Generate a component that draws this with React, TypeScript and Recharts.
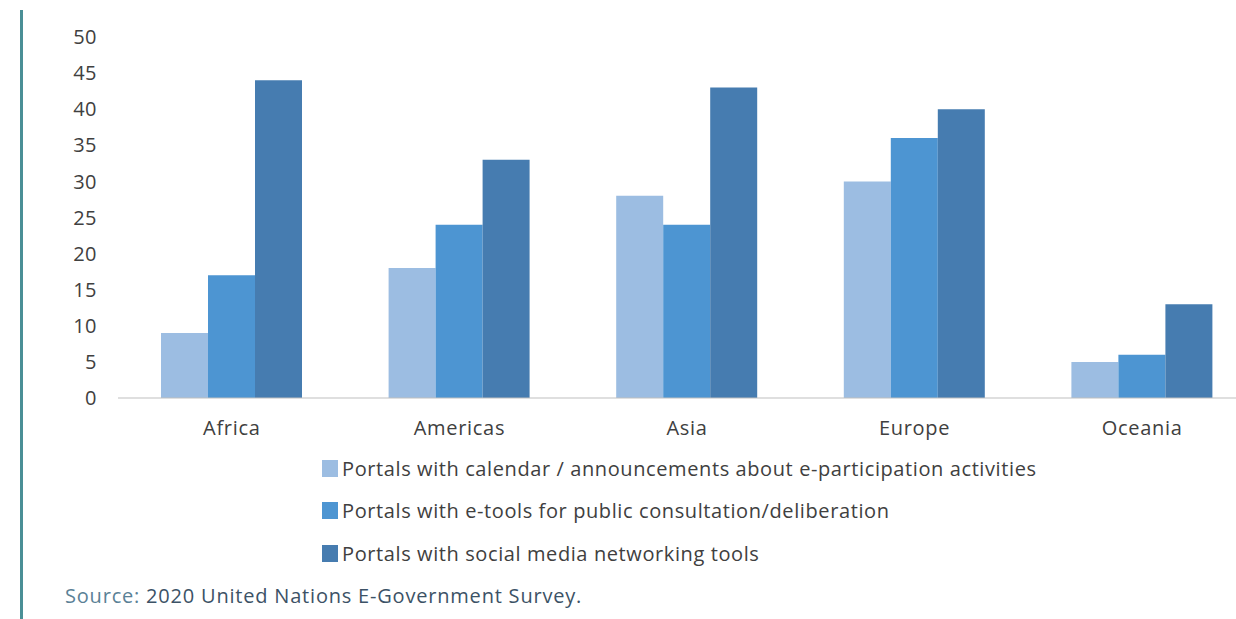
import React from 'react';
import { BarChart, Bar, XAxis, YAxis, Legend } from 'recharts';

const regions = ['Africa', 'Americas', 'Asia', 'Europe', 'Oceania'];
const calendar = [9, 18, 28, 30, 5];
const eTools = [17, 24, 24, 36, 6];
const socialMedia = [44, 33, 43, 40, 13];
const yTicks = [0, 5, 10, 15, 20, 25, 30, 35, 40, 45, 50];

const seriesNames = [
    'Portals with calendar / announcements about e-participation activities',
    'Portals with e-tools for public consultation/deliberation',
    'Portals with social media networking tools',
];
const colors = ['#9cbde2', '#4d95d2', '#467cb0'];

const data = regions.map((region, i) => ({
    region,
    calendar: calendar[i],
    eTools: eTools[i],
    socialMedia: socialMedia[i],
}));

const FONT = '"Open Sans", sans-serif';

const LegendRows = () => (
    <div style={{ fontFamily: FONT, fontSize: 20, letterSpacing: 0.6, color: '#404040', textAlign: 'left' }}>
        {seriesNames.map((name, i) => (
            <div key={name} style={{ display: 'flex', alignItems: 'center', height: 42.5 }}>
                <span style={{ display: 'inline-block', width: 16, height: 17, background: colors[i], marginRight: 4 }} />
                <span>{name}</span>
            </div>
        ))}
    </div>
);

export default function App() {
    return (
        <div style={{ position: 'fixed', left: 0, top: 0, width: 1236, height: 619, overflow: 'hidden', background: '#fff' }}>
            <div style={{ position: 'absolute', left: 20, top: 10, width: 2.5, height: 609, background: '#4a8f96' }} />
            <BarChart
                width={1280}
                height={619}
                data={data}
                margin={{ top: 37, right: 24, bottom: 181, left: 0 }}
                barGap={0}
                barCategoryGap={43}
            >
                <XAxis
                    dataKey="region"
                    height={40}
                    tickSize={0}
                    tickMargin={23}
                    stroke="#bfbfbf"
                    tick={{ fill: '#404040', fontSize: 20, fontFamily: FONT, letterSpacing: 0.7 }}
                />
                <YAxis
                    width={118}
                    domain={[0, 50]}
                    ticks={yTicks}
                    axisLine={false}
                    tickLine={false}
                    tickSize={0}
                    tickMargin={21}
                    interval={0}
                    tick={{ fill: '#404040', fontSize: 20, fontFamily: FONT, letterSpacing: 0.5 }}
                />
                <Legend
                    layout="horizontal"
                    verticalAlign="middle"
                    align="center"
                    wrapperStyle={{ position: 'absolute', left: 322, top: 447, width: 900 }}
                    content={() => <LegendRows />}
                />
                <Bar dataKey="calendar" name={seriesNames[0]} fill={colors[0]} isAnimationActive={false} />
                <Bar dataKey="eTools" name={seriesNames[1]} fill={colors[1]} isAnimationActive={false} />
                <Bar dataKey="socialMedia" name={seriesNames[2]} fill={colors[2]} isAnimationActive={false} />
            </BarChart>
            <div style={{ position: 'absolute', left: 65, top: 582, fontFamily: FONT, fontSize: 20, letterSpacing: 0.8, color: '#3c5266' }}>
                <span style={{ color: '#5a8196' }}>Source:</span> 2020 United Nations E-Government Survey.
            </div>
        </div>
    );
}
